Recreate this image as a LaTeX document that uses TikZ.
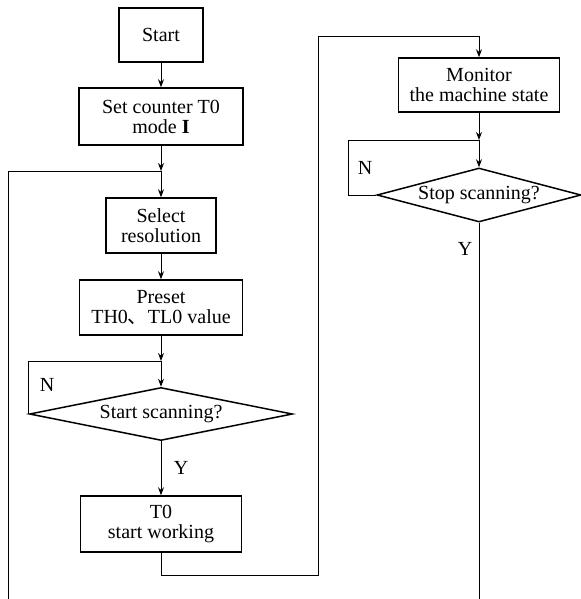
\documentclass[tikz,border=0pt]{standalone}
\usepackage{fontspec}
\setmainfont{Liberation Serif}
\newfontfamily\cjk{Noto Sans CJK SC}
\usetikzlibrary{shapes.geometric, arrows.meta}

\begin{document}
\begin{tikzpicture}[x=0.5pt, y=-0.5pt, >={Stealth[length=4pt,width=3pt]}, line width=0.5pt,
    box/.style={draw, line width=0.75pt, inner sep=0pt, align=center, font=\fontsize{10}{10}\selectfont},
    ask/.style={draw, diamond, shape aspect=4, line width=0.75pt, inner sep=0pt, font=\fontsize{10}{10}\selectfont},
    lbl/.style={font=\fontsize{10}{10}\selectfont}]
    \useasboundingbox (0,0) rectangle (581,599);

    % Left column
    \node[box, minimum width=42pt, minimum height=27pt] (start) at (161,35) {Start};
    \node[box, minimum width=82pt, minimum height=28.5pt] (setc) at (161,116.5) {Set counter T0\\ mode \textbf{I}};
    \node[box, minimum width=55pt, minimum height=27.5pt] (sel) at (161,225.5) {Select\\ resolution};
    \node[box, minimum width=81.5pt, minimum height=27.5pt] (preset) at (161,307.5) {Preset\\ TH0{\cjk 、}TL0 value};
    \node[ask, minimum width=131.5pt, minimum height=26.5pt] (scan) at (161,414) {Start scanning?};
    \node[box, minimum width=80.5pt, minimum height=28pt] (work) at (161,524) {T0\\ start working};

    % Right column
    \node[box, minimum width=80.5pt, minimum height=27pt] (monitor) at (479,85) {Monitor\\ the machine state};
    \node[ask, minimum width=102pt, minimum height=27pt] (stop) at (479,195) {Stop scanning?};

    % Junctions and loose ends
    \coordinate (j1) at (161,171);
    \coordinate (j2) at (161,361);
    \coordinate (j3) at (479,140);
    \coordinate (back) at (8,599);
    \coordinate (done) at (479,599);

    % Flow
    \draw[->] (start) -- (setc);
    \draw[->] (setc) -- (j1);
    \draw[->] (j1) -- (sel);
    \draw[->] (sel) -- (preset);
    \draw[->] (preset) -- (j2);
    \draw[->] (j2) -- (scan);
    \draw[->] (scan) -- (work);
    \draw[->] (work.south) |- (318,575) -- (318,37) -| (monitor.north);
    \draw[->] (monitor) -- (j3);
    \draw[->] (j3) -- (stop);
    \draw (stop) -- (done);

    % Loops
    \draw (back) |- (j1);
    \draw (scan.west) |- (j2);
    \draw (stop.west) -- (348,195) |- (j3);

    % Labels
    \node[lbl] (n1) at (47,385) {N};
    \node[lbl] (y1) at (181,468) {Y};
    \node[lbl] (n2) at (365,168) {N};
    \node[lbl] (y2) at (465,249) {Y};
\end{tikzpicture}
\end{document}
